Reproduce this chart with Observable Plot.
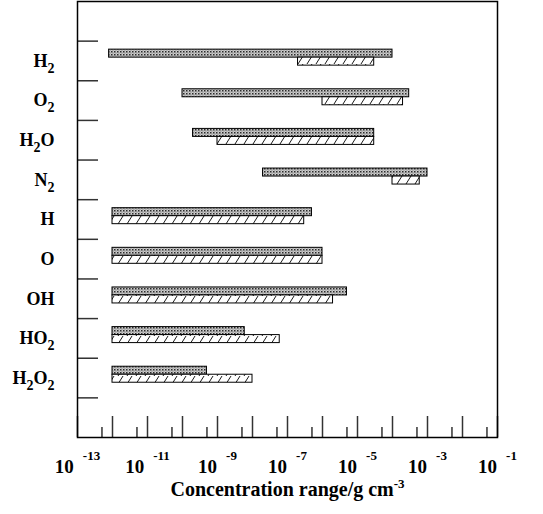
<!DOCTYPE html>
<html><head><meta charset="utf-8">
<script src="https://cdn.jsdelivr.net/npm/d3@7"></script>
<script src="https://cdn.jsdelivr.net/npm/@observablehq/plot@0.6"></script>
<style>body{margin:0;background:#fff} svg{display:block}</style>
</head><body><div id="chart"></div>
<script>
// Species (top to bottom)
const species = ["H2", "O2", "H2O", "N2", "H", "O", "OH", "HO2", "H2O2"];
// Dotted (upper) bar: concentration range, g cm^-3
const dottedMin = [8e-13, 1e-10, 2e-10, 2e-8, 1e-12, 1e-12, 1e-12, 1e-12, 1e-12];
const dottedMax = [1e-4, 3e-4, 3e-5, 1e-3, 5e-7, 1e-6, 5e-6, 6e-9, 5e-10];
// Hatched (lower) bar
const hatchedMin = [2e-7, 1e-6, 1e-9, 1e-4, 1e-12, 1e-12, 1e-12, 1e-12, 1e-12];
const hatchedMax = [3e-5, 2e-4, 3e-5, 6e-4, 3e-7, 1e-6, 2e-6, 6e-8, 1e-8];
// Axis ticks
const majorTicks = d3.range(-13, 0).map(e => Math.pow(10, e));
const minorTicks = d3.range(-13, -1).map(e => 5 * Math.pow(10, e));
const labelTicks = [-13, -11, -9, -7, -5, -3, -1].map(e => Math.pow(10, e));
const xTitle = "Concentration range/g cm";
const xTitleSup = "-3";

const W = 543, H = 514, mT = 1, mB = 77, mL = 77, mR = 46;
const bw = (H - mT - mB) / (species.length + 2);
const font = "'Liberation Serif', 'Times New Roman', serif";

const dotted = species.map((s, i) => ({s, lo: dottedMin[i], hi: dottedMax[i]}));
const hatched = species.map((s, i) => ({s, lo: hatchedMin[i], hi: hatchedMax[i]}));

const chart = Plot.plot({
  width: W, height: H,
  marginTop: mT, marginBottom: mB, marginLeft: mL, marginRight: mR,
  style: {fontFamily: font, fontWeight: "bold", fontSize: "16px", color: "black", background: "white"},
  x: {type: "log", domain: [1e-13, 1e-1], label: null},
  y: {type: "band", domain: ["_top", ...species, "_bottom"], padding: 0, round: false, label: null},
  marks: [
    Plot.barX(dotted, {y: "s", x1: "lo", x2: "hi", fill: "url(#dots)", stroke: "black", strokeWidth: 1, insetTop: 8.5, insetBottom: bw - 16.5}),
    Plot.barX(hatched, {y: "s", x1: "lo", x2: "hi", fill: "url(#hatch)", stroke: "black", strokeWidth: 1, insetTop: 16.5, insetBottom: bw - 24.5}),
    Plot.axisY({ticks: [...species, "_bottom"], tickSize: -21, tickFormat: () => "", dy: -bw / 2, label: null, stroke: "#333", strokeWidth: 1.5}),
    Plot.axisY({ticks: species, tickSize: 0, tickPadding: 23, label: null, fontSize: 18}),
    Plot.axisX({ticks: majorTicks, tickSize: -21, tickFormat: () => "", label: null, stroke: "#333", strokeWidth: 1.5}),
    Plot.axisX({ticks: minorTicks, tickSize: -10, tickFormat: () => "", label: null, stroke: "#333", strokeWidth: 1.5}),
    Plot.axisX({ticks: labelTicks, tickSize: 0, tickPadding: 22, label: null, fontSize: 18,
      tickFormat: d => "10 " + Math.round(Math.log10(d))}),
    Plot.text([xTitle], {frameAnchor: "bottom", dy: 58, fontSize: 20, fontWeight: "bold"}),
    Plot.frame({stroke: "black", strokeWidth: 1.5})
  ]
});

// pattern defs
const svg = d3.select(chart);
const defs = svg.insert("defs", ":first-child");
const dp = defs.append("pattern").attr("id", "dots").attr("patternUnits", "userSpaceOnUse")
  .attr("width", 3).attr("height", 3);
dp.append("rect").attr("width", 3).attr("height", 3).attr("fill", "#cdcdcd");
dp.append("rect").attr("width", 1.5).attr("height", 1.5).attr("fill", "#2a2a2a");
dp.append("rect").attr("x", 1.5).attr("y", 1.5).attr("width", 1).attr("height", 1).attr("fill", "#666");
const hp = defs.append("pattern").attr("id", "hatch").attr("patternUnits", "userSpaceOnUse")
  .attr("width", 9).attr("height", 8);
hp.append("rect").attr("width", 9).attr("height", 8).attr("fill", "white");
hp.append("line").attr("x1", 1).attr("y1", 8).attr("x2", 6).attr("y2", 0)
  .attr("stroke", "black").attr("stroke-width", 0.9);

// subscripts in species labels
svg.selectAll('g[aria-label="y-axis tick label"] text').each(function() {
  const t = this.textContent;
  const parts = t.match(/[A-Za-z]+|\d+/g) || [];
  const el = d3.select(this).text("").style("font-size", "18px");
  let sub = false;
  for (const p of parts) {
    const isNum = /\d/.test(p);
    const ts = el.append("tspan").text(p);
    if (isNum && !sub) { ts.attr("dy", 6).style("font-size", "14px"); sub = true; }
    else if (isNum) { ts.style("font-size", "14px"); }
    else if (sub) { ts.attr("dy", -6); sub = false; }
  }
});
// superscripts on x tick labels
svg.selectAll('g[aria-label="x-axis tick label"] text').each(function() {
  const [base, exp] = this.textContent.split(" ");
  const el = d3.select(this).text("").style("font-size", "19px");
  el.append("tspan").text(base).style("font-size", "19px");
  el.append("tspan").text(exp).attr("dx", 9).attr("dy", -13).style("font-size", "13px");
});
// x title superscript
svg.selectAll('g[aria-label="text"] text').each(function() {
  if (this.textContent !== xTitle) return;
  d3.select(this).style("font-size", "20px");
  d3.select(this).append("tspan").text(xTitleSup).attr("dy", -8).style("font-size", "13px");
});
document.getElementById("chart").appendChild(chart);
</script>
</body></html>
